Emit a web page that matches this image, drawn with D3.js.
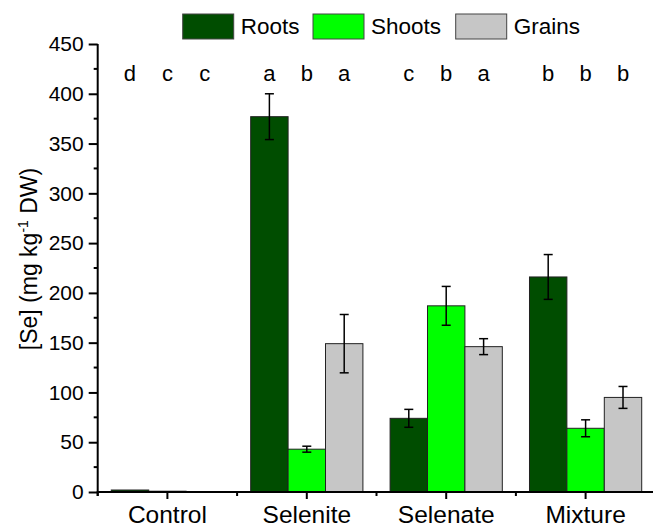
<!DOCTYPE html>
<html>
<head>
<meta charset="utf-8">
<script src="https://cdn.jsdelivr.net/npm/d3@7"></script>
<style>
  body { margin: 0; background: #fff; }
  text { font-family: "Liberation Sans", Arial, sans-serif; fill: #000; }
</style>
</head>
<body>
<script>
// donnees
const groupes = ["Control", "Selenite", "Selenate", "Mixture"];
const series = ["Roots", "Shoots", "Grains"];
const couleurs = ["#004d00", "#00ff00", "#c6c6c6"];

const roots = [2, 377, 74, 216];
const shoots = [0.8, 43, 187, 64];
const grains = [0.3, 149, 146, 95];

const errRoots = [0.3, 23, 9, 22.5];
const errShoots = [0.1, 3, 19.5, 8.5];
const errGrains = [0.1, 29.3, 8, 11];

const lettres = [
  ["d", "c", "c"],
  ["a", "b", "a"],
  ["c", "b", "a"],
  ["b", "b", "b"]
];

const yTicks = [0, 50, 100, 150, 200, 250, 300, 350, 400, 450];

const largeur = 653;
const hauteur = 529;

const valeurs = [roots, shoots, grains];
const erreurs = [errRoots, errShoots, errGrains];

const svg = d3.select("body").append("svg")
    .attr("width", largeur)
    .attr("height", hauteur);

const gauche = 97.7, droite = 655.3, haut = 44, bas = 492;

const x = d3.scaleBand()
    .domain(groupes)
    .range([gauche, droite])
    .paddingInner(0.195)
    .paddingOuter(0.0975);

const xs = d3.scaleBand()
    .domain(series)
    .range([0, x.bandwidth()]);

const y = d3.scaleLinear()
    .domain([0, 450])
    .range([bas, haut]);

// barres
series.forEach((s, k) => {
  svg.append("g").selectAll("rect")
    .data(groupes)
    .join("rect")
    .attr("x", g => x(g) + xs(s))
    .attr("y", (g, i) => y(valeurs[k][i]))
    .attr("width", xs.bandwidth())
    .attr("height", (g, i) => bas - y(valeurs[k][i]))
    .attr("fill", couleurs[k])
    .attr("stroke", "#222")
    .attr("stroke-width", 1);
});

// barres d'erreur
series.forEach((s, k) => {
  groupes.forEach((g, i) => {
    const cx = x(g) + xs(s) + xs.bandwidth() / 2;
    const v = valeurs[k][i], e = erreurs[k][i];
    if (v < 5) return;
    const eb = svg.append("g").attr("stroke", "#000").attr("stroke-width", 1.5);
    eb.append("line").attr("x1", cx).attr("x2", cx).attr("y1", y(v + e)).attr("y2", y(v - e));
    eb.append("line").attr("x1", cx - 4.5).attr("x2", cx + 4.5).attr("y1", y(v + e)).attr("y2", y(v + e));
    eb.append("line").attr("x1", cx - 4.5).attr("x2", cx + 4.5).attr("y1", y(v - e)).attr("y2", y(v - e));
  });
});

// lettres de significativite
groupes.forEach((g, i) => {
  series.forEach((s, k) => {
    svg.append("text")
      .attr("x", x(g) + xs(s) + xs.bandwidth() / 2)
      .attr("y", 81)
      .attr("text-anchor", "middle")
      .style("font-size", "22px")
      .text(lettres[i][k]);
  });
});

// axe y
const axeY = svg.append("g")
    .attr("transform", `translate(${gauche},0)`)
    .call(d3.axisLeft(y).tickValues(yTicks).tickSize(9).tickPadding(5));
axeY.select(".domain").attr("stroke-width", 2).attr("d", `M0,${bas + 4}V${haut}`);
axeY.selectAll(".tick line").attr("stroke-width", 2);
axeY.selectAll(".tick text").style("font-size", "21px").attr("font-family", null);

// petites graduations y
svg.append("g").selectAll("line")
  .data(d3.range(25, 450, 50))
  .join("line")
  .attr("x1", gauche - 4).attr("x2", gauche)
  .attr("y1", d => y(d)).attr("y2", d => y(d))
  .attr("stroke", "#000").attr("stroke-width", 2);

// axe x
const axeX = svg.append("g")
    .attr("transform", `translate(0,${bas})`)
    .call(d3.axisBottom(x).tickSize(7).tickPadding(7));
axeX.select(".domain").attr("stroke-width", 2).attr("d", `M${gauche - 1},0H${droite}`);
axeX.selectAll(".tick line").attr("stroke-width", 2);
axeX.selectAll(".tick text").style("font-size", "24.5px").attr("font-family", null);

// petites graduations x aux limites des groupes
svg.append("g").selectAll("line")
  .data(d3.range(0, groupes.length + 1))
  .join("line")
  .attr("x1", i => gauche + i * x.step()).attr("x2", i => gauche + i * x.step())
  .attr("y1", bas).attr("y2", bas + 4)
  .attr("stroke", "#000").attr("stroke-width", 2);

// titre axe y
const titre = svg.append("text")
    .attr("transform", `translate(37,259) rotate(-90)`)
    .attr("text-anchor", "middle")
    .style("font-size", "23px");
titre.append("tspan").text("[Se] (mg kg");
titre.append("tspan").attr("dy", -9).style("font-size", "14px").text("-1");
titre.append("tspan").attr("dy", 9).text(" DW)");

// legende
const legX = [182.7, 313, 455.7];
series.forEach((s, k) => {
  svg.append("rect")
    .attr("x", legX[k]).attr("y", 14)
    .attr("width", 51).attr("height", 25)
    .attr("fill", couleurs[k])
    .attr("stroke", "#444").attr("stroke-width", 1);
  svg.append("text")
    .attr("x", legX[k] + 58).attr("y", 34)
    .style("font-size", "22.5px")
    .text(s);
});
</script>
</body>
</html>
